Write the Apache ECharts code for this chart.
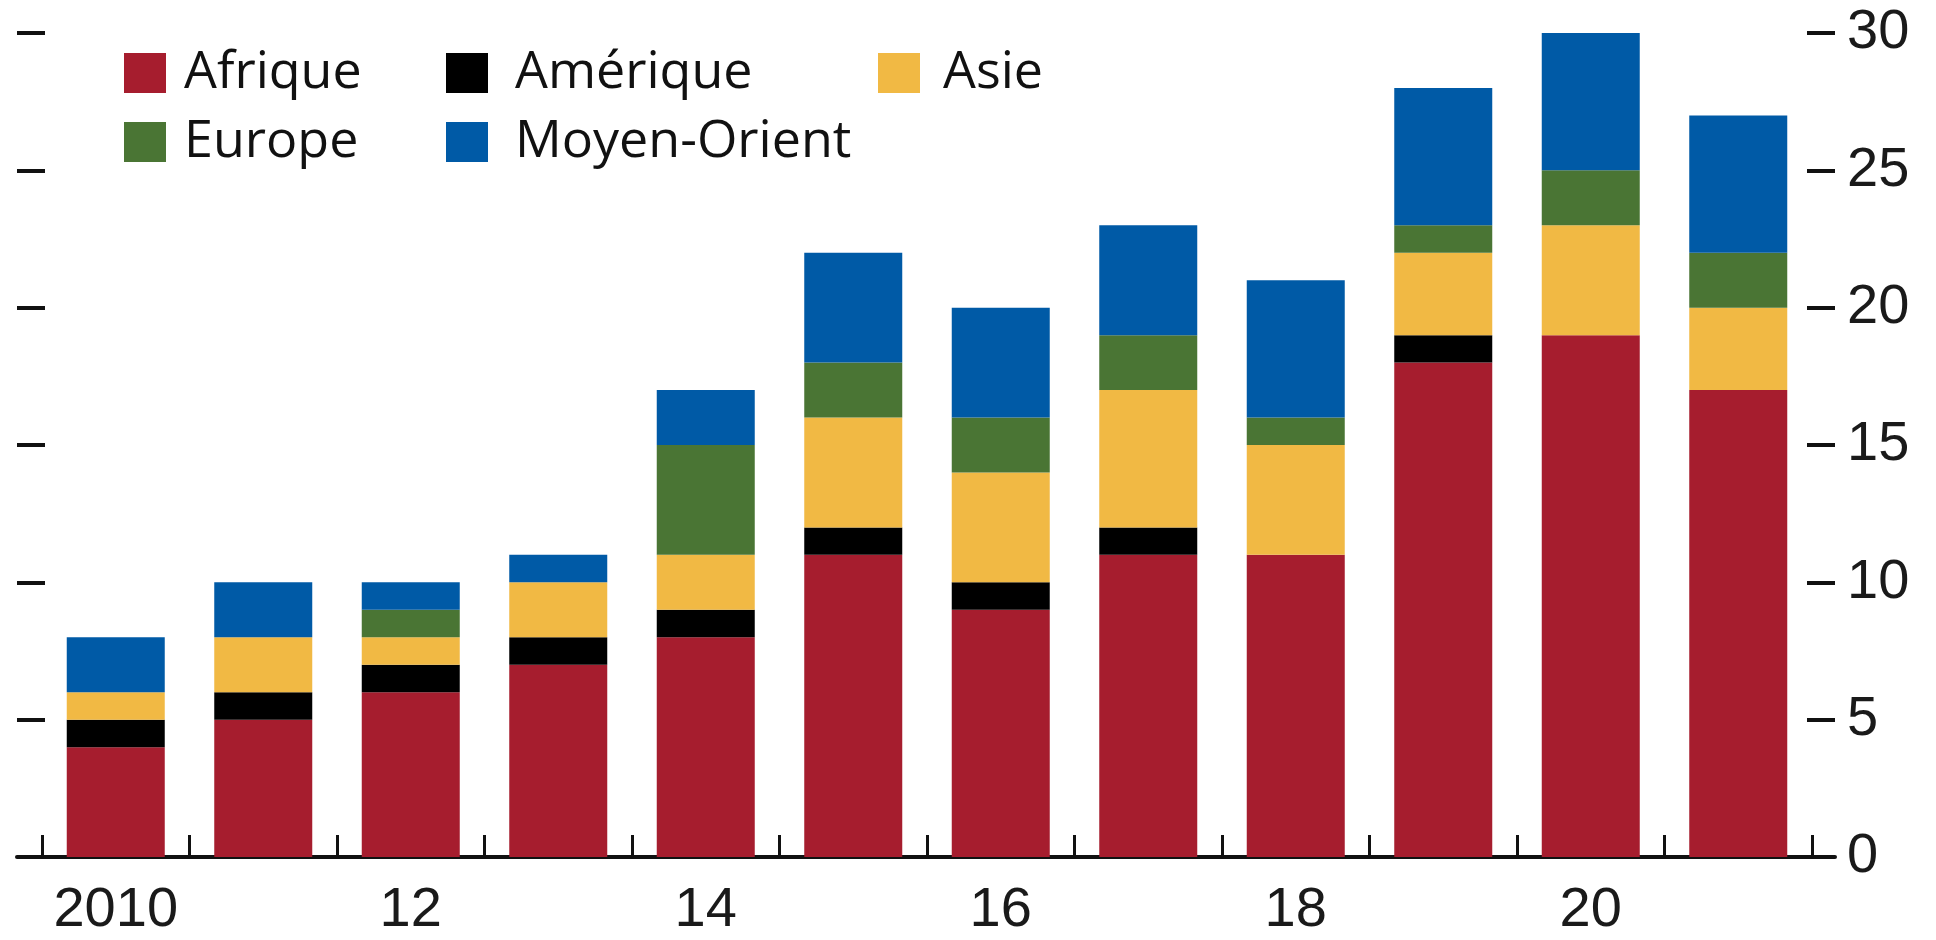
<!DOCTYPE html>
<html>
<head>
<meta charset="utf-8">
<script src="https://cdn.jsdelivr.net/npm/echarts@6/dist/echarts.min.js"></script>
<style>
  html, body { margin: 0; padding: 0; background: #fff; }
  #chart { width: 1936px; height: 940px; }
</style>
</head>
<body>
<div id="chart"></div>
<script>
// years on the x axis (only every other one is labelled)
const years = ['2010', '11', '12', '13', '14', '15', '16', '17', '18', '19', '20', '21']

// stacked values
const afrique = [4, 5, 6, 7, 8, 11, 9, 11, 11, 18, 19, 17]
const amerique = [1, 1, 1, 1, 1, 1, 1, 1, 0, 1, 0, 0]
const asie = [1, 2, 1, 2, 2, 4, 4, 5, 4, 3, 4, 3]
const europe = [0, 0, 1, 0, 4, 2, 2, 2, 1, 1, 2, 2]
const moyenOrient = [2, 2, 1, 1, 2, 4, 4, 4, 5, 5, 5, 5]

const yMin = 0
const yMax = 30
const yStep = 5

const numFont = "'Liberation Sans', Arial, sans-serif"
const legendFont = "'Open Sans', sans-serif"

const chartDom = document.getElementById('chart')
const myChart = echarts.init(chartDom, null, { renderer: 'canvas' })

const legendBase = {
  orient: 'vertical',
  top: 38,
  icon: 'rect',
  itemWidth: 42,
  itemHeight: 40,
  itemGap: 9,
  selectedMode: false,
}

const barSeries = (name, data, color) => ({
  name: name,
  type: 'bar',
  stack: 'total',
  barWidth: 98,
  data: data,
  itemStyle: { color: color },
})

const option = {
  animation: false,
  backgroundColor: '#fff',
  legend: [
    {
      ...legendBase,
      left: 119,
      data: ['Afrique', 'Europe'],
      textStyle: { fontFamily: legendFont, fontSize: 52, lineHeight: 60, color: '#111', padding: [0, 0, 0, 13] },
    },
    {
      ...legendBase,
      left: 441,
      data: ['Amérique', 'Moyen-Orient'],
      textStyle: { fontFamily: legendFont, fontSize: 52, lineHeight: 60, color: '#111', padding: [0, 0, 0, 22] },
    },
    {
      ...legendBase,
      left: 873,
      data: ['Asie'],
      textStyle: { fontFamily: legendFont, fontSize: 52, lineHeight: 60, color: '#111', padding: [0, 0, 0, 18] },
    },
  ],
  grid: [
    { left: 42, right: 124, top: 33, bottom: 83 },
    // wider grid only used for the long baseline
    { left: 17, right: 101, top: 33, bottom: 83 },
  ],
  xAxis: [
    {
      type: 'category',
      gridIndex: 0,
      data: years,
      axisLine: { show: false },
      axisTick: {
        show: true,
        inside: true,
        length: 22,
        interval: 0,
        lineStyle: { color: '#111', width: 3 },
      },
      axisLabel: {
        interval: 1,
        margin: 26,
        fontFamily: numFont,
        fontSize: 56,
        color: '#1a1a1a',
      },
    },
    {
      type: 'value',
      gridIndex: 1,
      min: 0,
      max: 1,
      axisLine: { show: true, onZero: false, lineStyle: { color: '#111', width: 4 } },
      axisTick: { show: false },
      axisLabel: { show: false },
      splitLine: { show: false },
    },
  ],
  yAxis: [
    {
      type: 'value',
      gridIndex: 0,
      position: 'left',
      offset: 25,
      min: yMin,
      max: yMax,
      interval: yStep,
      axisLine: { show: false },
      axisTick: { show: true, inside: true, length: 28, lineStyle: { color: '#111', width: 4 } },
      axisLabel: { show: false },
      splitLine: { show: false },
    },
    {
      type: 'value',
      gridIndex: 0,
      position: 'right',
      offset: 23,
      min: yMin,
      max: yMax,
      interval: yStep,
      axisLine: { show: false },
      axisTick: { show: true, inside: true, length: 28, lineStyle: { color: '#111', width: 4 } },
      axisLabel: {
        margin: 12,
        fontFamily: numFont,
        fontSize: 56,
        color: '#1a1a1a',
      },
      splitLine: { show: false },
    },
    {
      type: 'value',
      gridIndex: 1,
      show: false,
    },
  ],
  series: [
    barSeries('Afrique', afrique, '#A61D2E'),
    barSeries('Amérique', amerique, '#000000'),
    barSeries('Asie', asie, '#F1B944'),
    barSeries('Europe', europe, '#4A7534'),
    barSeries('Moyen-Orient', moyenOrient, '#005AA6'),
  ],
}

myChart.setOption(option)
</script>
</body>
</html>
